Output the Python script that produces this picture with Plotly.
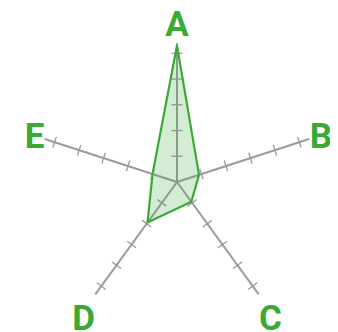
import plotly.graph_objects as go

categories = ["A", "B", "C", "D", "E"]
values = [5.3, 0.9, 0.95, 1.95, 1.0]
tick_values = [1, 2, 3, 4, 5]
bearings = [0, 72, 144, 216, 288]

GREEN = "rgb(58,170,53)"
GRAY = "rgb(155,155,155)"

tick_r = []
tick_theta = []
tick_angle = []
for c, b in zip(categories, bearings):
    for t in tick_values:
        tick_r.append(t)
        tick_theta.append(c)
        tick_angle.append(b)

fig = go.Figure()
fig.add_trace(go.Scatterpolar(
    r=tick_r, theta=tick_theta, mode="markers",
    marker=dict(symbol="line-ew", size=8, angle=tick_angle,
                color=GRAY, line=dict(color=GRAY, width=1.3)),
    hoverinfo="skip", showlegend=False,
))
fig.add_trace(go.Scatterpolar(
    r=values + [values[0]], theta=categories + [categories[0]],
    mode="lines", fill="toself",
    fillcolor="rgba(58,170,53,0.22)",
    line=dict(color=GREEN, width=2.2),
    showlegend=False,
))

R = 139.3
cx, cy = 169, 174
W, H = 338, 332
fig.update_layout(
    width=W, height=H,
    margin=dict(l=cx - R, r=W - cx - R, t=cy - R, b=H - cy - R, pad=0),
    paper_bgcolor="white", plot_bgcolor="white",
    polar=dict(
        bgcolor="white",
        radialaxis=dict(range=[0, 5.4], visible=False),
        angularaxis=dict(
            categoryorder="array", categoryarray=categories,
            direction="clockwise", rotation=90,
            showline=False, showgrid=True, gridcolor=GRAY, gridwidth=1.5,
            ticks="", tickfont=dict(family="Roboto", size=35, color=GREEN, weight="bold"),
        ),
    ),
)
fig.write_html("out.html")
